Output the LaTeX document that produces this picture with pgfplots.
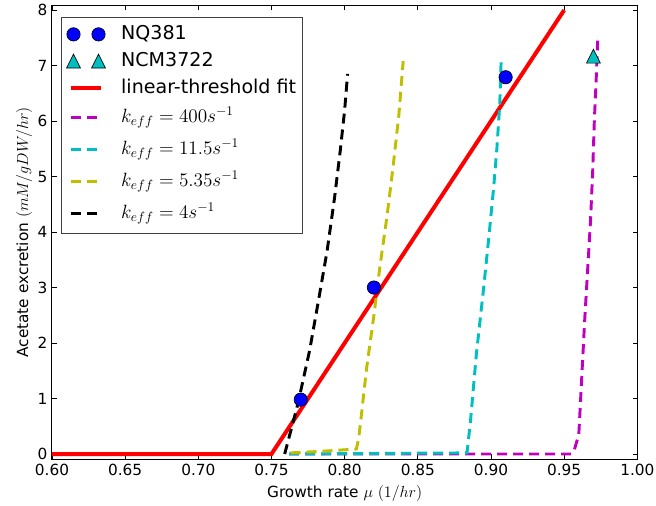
\documentclass[border=0pt]{standalone}
\usepackage[no-math]{fontspec}
\setmainfont{DejaVu Sans}
\usepackage{pgfplots}
\pgfplotsset{compat=1.18}
\definecolor{mplc}{rgb}{0,0.75,0.75}
\definecolor{mplm}{rgb}{0.75,0,0.75}
\definecolor{mply}{rgb}{0.75,0.75,0}
\pgfdeclareplotmark{mpltri}{%
  \pgfpathmoveto{\pgfqpoint{0pt}{\pgfplotmarksize}}%
  \pgfpathlineto{\pgfqpoint{-\pgfplotmarksize}{-\pgfplotmarksize}}%
  \pgfpathlineto{\pgfqpoint{\pgfplotmarksize}{-\pgfplotmarksize}}%
  \pgfpathclose
  \pgfusepathqfillstroke}
\pgfplotsset{
  twomarks/.style={legend image code/.code={\path (-3.25pt,0pt) (33.5pt,0pt); \draw[##1, only marks] plot coordinates {(2.25pt,0pt) (21pt,0pt)};}},
  lineleg/.style={legend image code/.code={\path (-3.25pt,0pt) (33.5pt,0pt); \draw[##1] (0pt,0pt) -- (22.5pt,0pt);}},
}
\newcommand{\ts}{\rule[-3pt]{0pt}{14pt}}
\newcommand{\ms}{\rule[-5pt]{0pt}{18pt}}
\begin{document}
\begin{tikzpicture}
\begin{axis}[
  scale only axis,
  width=439pt, height=340pt,
  xmin=0.6, xmax=1.0, ymin=-0.09, ymax=8.08,
  xtick={0.6,0.65,...,1.01},
  ytick={0,1,...,8},
  /pgf/number format/assume math mode=true,
  xticklabel style={/pgf/number format/.cd, fixed, fixed zerofill, precision=2},
  yticklabel style={/pgf/number format/.cd, fixed, precision=0},
  tick align=inside, tick pos=both,
  major tick length=3.5pt,
  tick style={black, line width=0.6pt},
  axis line style={black, line width=0.75pt},
  ticklabel style={font=\fontsize{11.5}{13}\selectfont},
  label style={font=\fontsize{11.5}{13}\selectfont},
  xlabel={Growth rate $\mu$ $(1/hr)$},
  ylabel={Acetate excretion $(mM/gDW/hr)$},
  xlabel style={at={(axis description cs:0.5,-0.086)}, anchor=base},
  ylabel style={at={(axis description cs:-0.041,0.5)}, anchor=base},
  legend cell align=left,
  legend style={at={(0.0154,0.976)}, anchor=north west, draw=black!75, line width=0.75pt,
    fill=white, font=\fontsize{14.3}{16}\selectfont, inner xsep=2pt, inner ysep=3pt,
    nodes={inner xsep=3pt, inner ysep=3pt, text depth=, text height=}},
  dashline/.style={line width=2.2pt, dash pattern=on 7.5pt off 4.5pt},
]
\addplot[only marks, mark=*, mark size=5pt, mark options={fill=blue, draw=black, line width=0.5pt}, twomarks]
  coordinates {(0.77,0.98) (0.82,3.0) (0.91,6.79)};
\addlegendentry{\ts NQ381}
\addplot[only marks, mark=mpltri, mark size=5.25pt, mark options={fill=mplc, draw=black, line width=0.5pt}, twomarks]
  coordinates {(0.97,7.17)};
\addlegendentry{\ts NCM3722}
\addplot[red, line width=3pt, lineleg]
  coordinates {(0.6,0) (0.75,0) (0.95,8.0)};
\addlegendentry{\ts linear-threshold fit}
\addplot[mplm, dashline, lineleg]
  coordinates {(0.762,0) (0.955,0) (0.957,0.08) (0.960,0.35) (0.964,2.4) (0.966,3.3) (0.968,4.2) (0.9695,5.1) (0.9706,6.0) (0.9718,6.7) (0.9729,7.45)};
\addlegendentry{\ms $k_{eff}=400s^{-1}$}
\addplot[mplc, dashline, lineleg]
  coordinates {(0.762,0) (0.8836,0.02) (0.886,0.6) (0.890,1.8) (0.895,3.0) (0.8985,3.9) (0.9018,4.8) (0.904,5.5) (0.906,6.31) (0.907,7.15)};
\addlegendentry{\ms $k_{eff}=11.5s^{-1}$}
\addplot[mply, dashline, lineleg]
  coordinates {(0.763,0.02) (0.785,0.05) (0.808,0.09) (0.8095,0.27) (0.811,0.6) (0.815,1.55) (0.820,2.5) (0.824,3.36) (0.829,4.3) (0.833,5.16) (0.837,6.1) (0.840,7.08)};
\addlegendentry{\ms $k_{eff}=5.35s^{-1}$}
\addplot[black, dashline, lineleg]
  coordinates {(0.759,0) (0.768,0.9) (0.776,1.86) (0.782,2.75) (0.788,3.66) (0.793,4.6) (0.797,5.47) (0.800,6.2) (0.802,6.85)};
\addlegendentry{\ms $k_{eff}=4s^{-1}$}
\end{axis}
\pgfresetboundingbox
\path (current axis.south west) ++(-39pt,-35.25pt) rectangle ++(492pt,379.5pt);
\end{tikzpicture}
\end{document}
